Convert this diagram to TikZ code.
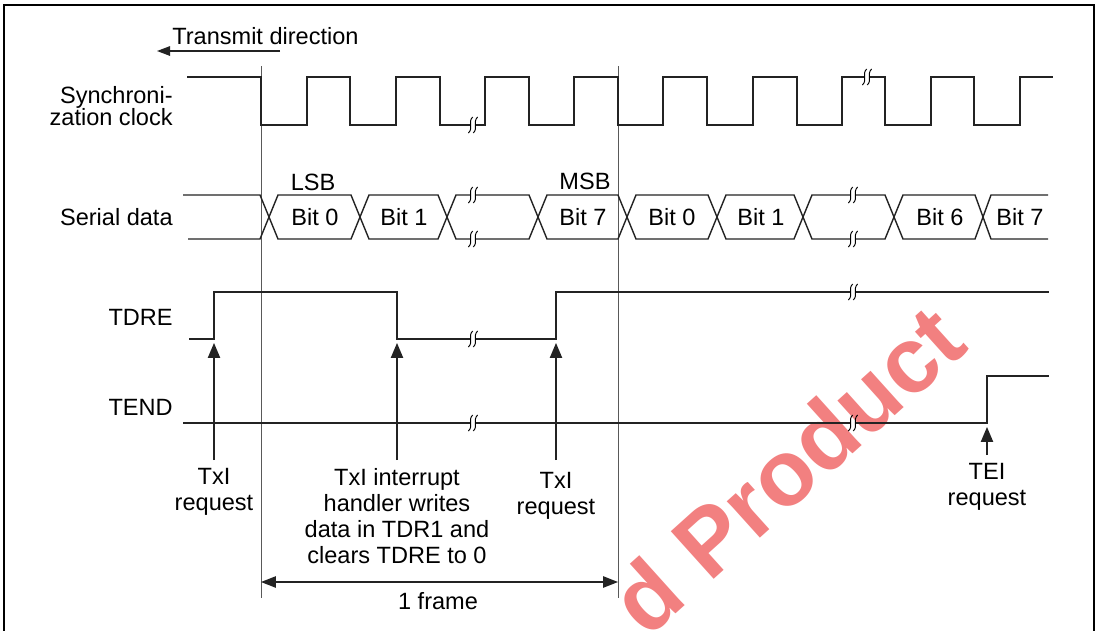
\documentclass[tikz,border=0pt]{standalone}
\usepackage{fontspec}
\setmainfont{Liberation Sans}
\usetikzlibrary{arrows.meta}
\definecolor{wmred}{RGB}{242,128,128}
\definecolor{sig}{RGB}{35,35,35}
\tikzset{
  sigline/.style={draw=sig,line width=0.8pt,line join=miter},
  marker/.style={draw=black!65,line width=0.5pt},
  lbl/.style={font=\fontsize{13.4}{14.9}\selectfont,inner sep=0pt},
  req/.style={lbl,align=center,anchor=north,inner sep=4.5pt},
  uparrow/.style={draw=sig,line width=0.7pt,-{Triangle[length=8.5pt,width=7pt]}},
  brk/.pic={
    \fill[white] (-2.6,-2.2) rectangle (2.6,2.2);
    \draw[black,line width=0.55pt] (-0.3,-8) .. controls (-5.5,-3) and (0.8,3) .. (-4.6,8);
    \draw[black,line width=0.55pt] (4.6,-8) .. controls (-0.6,-3) and (5.5,3) .. (0.3,8);
  }
}
\begin{document}
\begin{tikzpicture}[x=0.02cm,y=-0.02cm]
\useasboundingbox (0,0) rectangle (1100,630);
% watermark
\node[rotate=42,text=wmred,font=\bfseries\fontsize{53}{53}\selectfont,inner sep=0pt] (wm) at (787,469) {d Product};
% frame
\draw[black,line width=0.8pt] (4,650) -- (4,5) -- (1094,5) -- (1094,650);
% transmit direction
\node[lbl,anchor=base west] (td) at (172,44) {Transmit direction};
\coordinate (tdA) at (280,51);
\coordinate (tdB) at (157,51);
\draw[draw=sig,line width=0.7pt,-{Triangle[length=7.5pt,width=5.5pt]}] (tdA) -- (tdB);
% frame markers
\coordinate (m1t) at (261,66); \coordinate (m1b) at (261,598);
\coordinate (m2t) at (618,66); \coordinate (m2b) at (618,598);
\draw[marker] (m1t) -- (m1b);
\draw[marker] (m2t) -- (m2b);
% row labels
\node[lbl,align=right,anchor=north east,font=\fontsize{13.4}{12.5}\selectfont] (lclk) at (173,86) {Synchroni-\\zation clock};
\node[lbl,anchor=east] (lser) at (173,217) {Serial data};
\node[lbl,anchor=east] (ltdre) at (173,317) {TDRE};
\node[lbl,anchor=east] (ltend) at (173,407) {TEND};
% clock
\draw[sigline] (187,77) -- (261,77) -- (261,125) -- (307,125) -- (307,77) -- (350,77) -- (350,125) -- (396,125) -- (396,77) -- (440,77) -- (440,125) -- (485,125) -- (485,77) -- (529,77) -- (529,125) -- (574,125) -- (574,77) -- (618,77) -- (618,125) -- (663,125) -- (663,77) -- (707,77) -- (707,125) -- (753,125) -- (753,77) -- (797,77) -- (797,125) -- (842,125) -- (842,77) -- (885,77) -- (885,125) -- (931,125) -- (931,77) -- (974,77) -- (974,125) -- (1020,125) -- (1020,77) -- (1053,77);
% serial data
\draw[sigline] (183,195) -- (260,195) -- (278,239) -- (351,239) -- (369,195) -- (438,195) -- (456,239) -- (529,239) -- (547,195) -- (618,195) -- (636,239) -- (708,239) -- (726,195) -- (794,195) -- (812,239) -- (885,239) -- (903,195) -- (975,195) -- (991,239) -- (1048,239);
\draw[sigline] (188,239) -- (260,239) -- (278,195) -- (351,195) -- (369,239) -- (438,239) -- (456,195) -- (529,195) -- (547,239) -- (618,239) -- (636,195) -- (708,195) -- (726,239) -- (794,239) -- (812,195) -- (885,195) -- (903,239) -- (975,239) -- (991,195) -- (1048,195);
\node[lbl] (lsb) at (313,182) {LSB};
\node[lbl] (msb) at (585,181) {MSB};
\node[lbl] (b1) at (315,217) {Bit 0};
\node[lbl] (b2) at (404,217) {Bit 1};
\node[lbl] (b3) at (583,217) {Bit 7};
\node[lbl] (b4) at (672,217) {Bit 0};
\node[lbl] (b5) at (761,217) {Bit 1};
\node[lbl] (b6) at (940,217) {Bit 6};
\node[lbl] (b7) at (1020,217) {Bit 7};
% TDRE
\draw[sigline] (189,339) -- (214,339) -- (214,292) -- (397,292) -- (397,339) -- (556,339) -- (556,292) -- (1049,292);
% TEND
\draw[sigline] (183,423) -- (987,423) -- (987,376) -- (1049,376);
% breaks
\pic at (473,125) {brk};
\pic at (867,77) {brk};
\pic at (473,195) {brk};
\pic at (473,239) {brk};
\pic at (853,195) {brk};
\pic at (853,239) {brk};
\pic at (473,339) {brk};
\pic at (853,292) {brk};
\pic at (473,423) {brk};
\pic at (853,423) {brk};
% requests
\coordinate (t1) at (214,343);
\coordinate (t2) at (397,343);
\coordinate (t3) at (556,343);
\coordinate (t4) at (987,427);
\node[req] (r1) at (214,460) {TxI\\request};
\node[req] (r2) at (397,460) {TxI interrupt\\handler writes\\data in TDR1 and\\clears TDRE to 0};
\node[req] (r3) at (556,464) {TxI\\request};
\node[req] (r4) at (987,455) {TEI\\request};
\draw[uparrow] (r1) -- (t1);
\draw[uparrow] (r2) -- (t2);
\draw[uparrow] (r3.north) ++(0,-4) coordinate (r3a) (r3a) -- (t3);
\draw[uparrow] (r4) -- (t4);
% 1 frame
\coordinate (f1) at (261,582);
\coordinate (f2) at (618,582);
\draw[draw=sig,line width=0.7pt,{Triangle[length=8.5pt,width=6.5pt]}-{Triangle[length=8.5pt,width=6.5pt]}] (f1) -- (f2);
\node[lbl] (fr) at (438,601) {1 frame};
\end{tikzpicture}
\end{document}
